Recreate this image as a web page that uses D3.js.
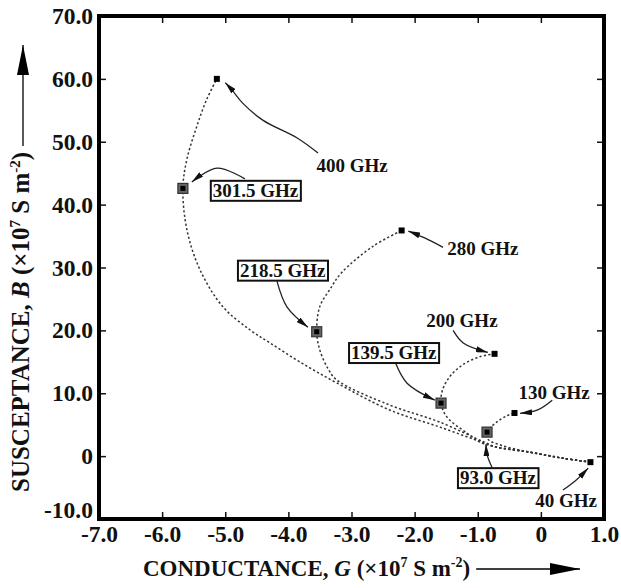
<!DOCTYPE html>
<html>
<head>
<meta charset="utf-8">
<script src="https://cdn.jsdelivr.net/npm/d3@7/dist/d3.min.js"></script>
<style>
  html, body { margin: 0; padding: 0; background: #fff; }
  svg { display: block; }
  text { font-family: "Liberation Serif", "Times New Roman", serif; font-weight: bold; fill: #111; }
</style>
</head>
<body>
<svg id="chart" width="621" height="588"></svg>
<script>
// ---- data (G, B in 1e7 S m^-2) ----
const xTicks = [-7, -6, -5, -4, -3, -2, -1, 0, 1];
const xTickLabels = ["-7.0", "-6.0", "-5.0", "-4.0", "-3.0", "-2.0", "-1.0", "0", "1.0"];
const yTicks = [-10, 0, 10, 20, 30, 40, 50, 60, 70];
const yTickLabels = ["-10.0", "0", "10.0", "20.0", "30.0", "40.0", "50.0", "60.0", "70.0"];

// frequency sweeps, each from 40 GHz upward
const sweep400 = [[0.785,-0.96],[0.342,-0.32],[-0.180,0.64],[-0.703,1.44],[-0.892,2.07],[-1.604,4.63],[-2.396,7.34],[-3.234,11.64],[-3.820,14.99],[-4.294,18.02],[-4.611,20.10],[-5.038,23.76],[-5.402,29.67],[-5.608,36.04],[-5.671,42.58],[-5.608,47.2],[-5.449,52.5],[-5.291,56.8],[-5.133,60.0]];
const sweep280 = [[0.785,-0.96],[0.342,-0.32],[-0.180,0.64],[-0.703,1.44],[-0.892,2.2],[-1.604,5.42],[-2.396,8.13],[-3.234,12.12],[-3.377,14.0],[-3.503,16.9],[-3.551,19.78],[-3.503,23.76],[-3.345,26.48],[-3.155,29.19],[-2.665,33.33],[-2.206,35.89]];
const sweep200 = [[0.785,-0.96],[0.342,-0.32],[-0.180,0.64],[-0.703,1.44],[-0.964,2.23],[-1.17,3.66],[-1.487,6.2],[-1.582,8.43],[-1.557,10.53],[-1.446,12.6],[-1.241,14.51],[-0.972,15.79],[-0.734,16.27]];
const sweep130 = [[0.785,-0.96],[0.342,-0.32],[-0.180,0.64],[-0.62,1.7],[-0.84,2.7],[-0.853,3.82],[-0.70,5.4],[-0.54,6.4],[-0.418,6.86]];

// end points (small squares) and resonance points (boxed squares)
const endFreqs = ["400 GHz", "280 GHz", "200 GHz", "130 GHz", "40 GHz"];
const endPoints = [[-5.133,60.0],[-2.206,35.89],[-0.734,16.27],[-0.418,6.86],[0.785,-0.96]];
const resFreqs = ["301.5 GHz", "218.5 GHz", "139.5 GHz", "93.0 GHz"];
const resPoints = [[-5.671,42.58],[-3.551,19.78],[-1.582,8.43],[-0.853,3.82]];

// annotations: label centre, arrow path (start -> tip), boxed?
const annLabels = ["400 GHz", "301.5 GHz", "280 GHz", "218.5 GHz", "200 GHz", "139.5 GHz", "130 GHz", "93.0 GHz", "40 GHz"];
const annCenters = [[-2.99,46.3],[-4.52,42.3],[-0.92,33.1],[-4.09,29.6],[-1.25,21.6],[-2.33,16.5],[0.21,10.2],[-0.68,-3.4],[0.40,-7.0]];
const annBoxed = [false, true, false, true, false, true, false, true, false];
const annArrows = [
  [[-3.53,48.2],[-3.86,50.6],[-4.40,53.4],[-4.72,56.1],[-4.89,58.2],[-5.00,59.4]],
  [[-4.69,44.1],[-5.13,45.8],[-5.53,43.6]],
  [[-1.55,33.2],[-1.84,34.7],[-2.10,35.8]],
  [[-4.18,27.8],[-4.02,23.7],[-3.69,20.5]],
  [[-1.39,20.0],[-1.23,18.0],[-0.84,16.5]],
  [[-2.31,15.0],[-2.12,11.6],[-1.68,8.9]],
  [[0.18,8.9],[-0.06,7.3],[-0.33,6.8]],
  [[-0.77,-1.9],[-0.85,0.15],[-0.87,1.9]],
  [[0.35,-5.4],[0.57,-3.7],[0.75,-1.9]]
];

// ---- drawing ----
const svg = d3.select("#chart");
const L = 99, R = 604, T = 16, B = 519;
const x = d3.scaleLinear().domain([-7, 1]).range([L, R]);
const y = d3.scaleLinear().domain([-10, 70]).range([B, T]);

const defs = svg.append("defs");
defs.append("marker").attr("id", "ah").attr("viewBox", "0 0 12 6")
  .attr("refX", 12).attr("refY", 3).attr("markerWidth", 12).attr("markerHeight", 6)
  .attr("markerUnits", "userSpaceOnUse").attr("orient", "auto")
  .append("path").attr("d", "M0,0 L12,3 L0,6 Z").attr("fill", "#111");

// curves
const line = d3.line().x(d => x(d[0])).y(d => y(d[1])).curve(d3.curveCatmullRom.alpha(0.5));
const sweeps = [sweep400, sweep280, sweep200, sweep130];
svg.append("g").selectAll("path").data(sweeps).join("path")
  .attr("d", line).attr("fill", "none").attr("stroke", "#333")
  .attr("stroke-width", 1.5).attr("stroke-dasharray", "2.2,2.3");

// axes (ticks inward on all four sides)
const tickSize = 7;
const gx = svg.append("g").attr("transform", `translate(0,${B})`)
  .call(d3.axisBottom(x).tickValues(xTicks).tickSizeInner(-tickSize).tickSizeOuter(0)
    .tickFormat((d, i) => xTickLabels[i]).tickPadding(11));
const gy = svg.append("g").attr("transform", `translate(${L},0)`)
  .call(d3.axisLeft(y).tickValues(yTicks).tickSizeInner(-tickSize).tickSizeOuter(0)
    .tickFormat((d, i) => yTickLabels[i]).tickPadding(6));
const gt = svg.append("g").attr("transform", `translate(0,${T})`)
  .call(d3.axisTop(x).tickValues(xTicks).tickSizeInner(-tickSize).tickSizeOuter(0).tickFormat(""));
const gr = svg.append("g").attr("transform", `translate(${R},0)`)
  .call(d3.axisRight(y).tickValues(yTicks).tickSizeInner(-tickSize).tickSizeOuter(0).tickFormat(""));
[gx, gy, gt, gr].forEach(g => {
  g.select(".domain").remove();
  g.selectAll(".tick line").attr("stroke", "#111").attr("stroke-width", 1.5);
  g.selectAll("text").style("font-size", "23.5px").attr("fill", "#111");
});
gx.selectAll("text").attr("dy", "0.5em");
// lowest y label sits just above the x labels, as in the original
gy.selectAll("text").filter(d => d === -10).attr("dy", "-0.05em");

// frame
svg.append("rect").attr("x", L).attr("y", T).attr("width", R - L).attr("height", B - T)
  .attr("fill", "none").attr("stroke", "#000").attr("stroke-width", 4);

// annotation arrows
const aline = d3.line().x(d => x(d[0])).y(d => y(d[1])).curve(d3.curveCatmullRom.alpha(0.5));
svg.append("g").selectAll("path").data(annArrows).join("path")
  .attr("d", aline).attr("fill", "none").attr("stroke", "#222").attr("stroke-width", 1.3)
  .attr("marker-end", "url(#ah)");

// markers
svg.append("g").selectAll("rect").data(endPoints).join("rect")
  .attr("x", d => x(d[0]) - 3).attr("y", d => y(d[1]) - 3).attr("width", 6).attr("height", 6)
  .attr("fill", "#000");
const rg = svg.append("g").selectAll("g").data(resPoints).join("g")
  .attr("transform", d => `translate(${x(d[0])},${y(d[1])})`);
rg.append("rect").attr("x", -5).attr("y", -5).attr("width", 10).attr("height", 10)
  .attr("fill", "#666").attr("stroke", "#333").attr("stroke-width", 1.2);
rg.append("rect").attr("x", -2.5).attr("y", -2.5).attr("width", 5).attr("height", 5).attr("fill", "#000");

// annotation labels
const ag = svg.append("g").selectAll("g").data(annLabels).join("g")
  .attr("transform", (d, i) => `translate(${x(annCenters[i][0])},${y(annCenters[i][1])})`);
ag.append("text").attr("text-anchor", "middle").attr("dy", "0.35em")
  .style("font-size", "19px").text(d => d);
ag.each(function(d, i) {
  if (!annBoxed[i]) return;
  const g = d3.select(this);
  const bb = g.select("text").node().getBBox();
  g.insert("rect", "text").attr("x", bb.x - 2).attr("y", bb.y + 1).attr("width", bb.width + 4)
    .attr("height", bb.height - 1).attr("fill", "#fff").attr("stroke", "#111").attr("stroke-width", 2);
});

// axis titles
const xt = svg.append("text").attr("x", 143).attr("y", 576).style("font-size", "23px");
xt.append("tspan").text("CONDUCTANCE, ");
xt.append("tspan").style("font-style", "italic").text("G");
xt.append("tspan").text(" (×10");
xt.append("tspan").attr("dy", -9).style("font-size", "14px").text("7");
xt.append("tspan").attr("dy", 9).text(" S m");
xt.append("tspan").attr("dy", -9).style("font-size", "14px").text("-2");
xt.append("tspan").attr("dy", 9).text(")");

const yt = svg.append("text").attr("transform", "translate(29,492) rotate(-90)").style("font-size", "25px");
yt.append("tspan").text("SUSCEPTANCE, ");
yt.append("tspan").style("font-style", "italic").text("B");
yt.append("tspan").text(" (×10");
yt.append("tspan").attr("dy", -9).style("font-size", "15px").text("7");
yt.append("tspan").attr("dy", 9).text(" S m");
yt.append("tspan").attr("dy", -9).style("font-size", "15px").text("-2");
yt.append("tspan").attr("dy", 9).text(")");

// direction arrows next to titles
defs.append("marker").attr("id", "bigah").attr("viewBox", "0 0 30 12")
  .attr("refX", 30).attr("refY", 6).attr("markerWidth", 30).attr("markerHeight", 12)
  .attr("markerUnits", "userSpaceOnUse").attr("orient", "auto")
  .append("path").attr("d", "M0,0 L30,6 L0,12 Z").attr("fill", "#000");
const xtEnd = xt.node().getBBox();
svg.append("line").attr("x1", xtEnd.x + xtEnd.width + 6).attr("x2", 580).attr("y1", 569).attr("y2", 569)
  .attr("stroke", "#000").attr("stroke-width", 1.3).attr("marker-end", "url(#bigah)");
const ytLen = yt.node().getComputedTextLength();
svg.append("line").attr("x1", 23).attr("x2", 23).attr("y1", 492 - ytLen - 6).attr("y2", 45)
  .attr("stroke", "#000").attr("stroke-width", 1.3).attr("marker-end", "url(#bigah)");
</script>
</body>
</html>
